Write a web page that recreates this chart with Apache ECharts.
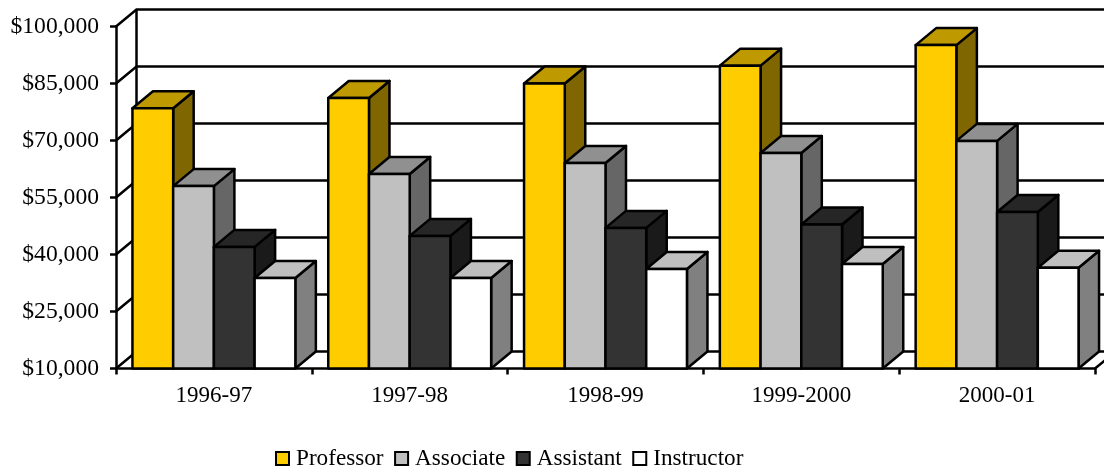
<!DOCTYPE html>
<html><head><meta charset="utf-8">
<style>html,body{margin:0;padding:0;background:#fff}#c{width:1104px;height:467px}</style>
<script src="https://cdn.jsdelivr.net/npm/echarts@6/dist/echarts.min.js"></script>
</head><body><div id="c"></div>
<script>
var categories = ['1996-97','1997-98','1998-99','1999-2000','2000-01'];
var professor = [78500,81200,85000,89700,95100];
var associate = [58000,61200,64100,66700,69900];
var assistant = [42000,44900,47000,47900,51200];
var instructor = [33800,33800,36200,37500,36500];
var yTicks = [10000,25000,40000,55000,70000,85000,100000];

var DX = 20.5, DY = 17, BAR = 0.208, FONT = 'Liberation Serif, "Times New Roman", serif', FS = 23, FSY = 23.6, LW = 2.5;
var chart = echarts.init(document.getElementById('c'), null, {renderer:'canvas'});
var line = {stroke:'#000', lineWidth:LW, fill:null};

function barSeries(name, values, idx, front, top, side){
  return {
    name:name, type:'custom', z:5, clip:false,
    itemStyle:{color:front, borderColor:'#000', borderWidth:2.5},
    encode:{x:0,y:1},
    data: values.map(function(v,i){return [i,v];}),
    renderItem:function(params, api){
      var c = api.coord([api.value(0), api.value(1)]);
      var b = api.coord([api.value(0), 10000]);
      var band = api.size([1,0])[0];
      var w = band*BAR;
      var x0 = c[0] - 2*w + idx*w, x1 = x0 + w, yT = c[1], yB = b[1];
      var st = function(f){return {fill:f, stroke:'#000', lineWidth:LW, lineJoin:'round'};};
      return {type:'group', children:[
        {type:'polygon', shape:{points:[[x1,yT],[x1+DX,yT-DY],[x1+DX,yB-DY],[x1,yB]]}, style:st(side)},
        {type:'polygon', shape:{points:[[x0,yT],[x0+DX,yT-DY],[x1+DX,yT-DY],[x1,yT]]}, style:st(top)},
        {type:'rect', shape:{x:x0,y:yT,width:w,height:yB-yT}, style:st(front)}
      ]};
    }
  };
}

var wall = {
  name:'wall', type:'custom', z:1, clip:false, silent:true,
  encode:{x:0,y:1},
  data: yTicks.map(function(t){return [0,t];}),
  renderItem:function(params, api){
    var cs = params.coordSys;
    var y = api.coord([0, api.value(1)])[1];
    var L = cs.x, R = cs.x + cs.width;
    var kids = [{type:'polyline', shape:{points:[[L,y],[L+DX,y-DY],[R+DX,y-DY]]}, style:line}];
    if (api.value(1) === yTicks[0]) {
      var topY = api.coord([0, yTicks[yTicks.length-1]])[1];
      kids.push({type:'line', shape:{x1:L+DX,y1:y-DY,x2:L+DX,y2:topY-DY}, style:line});
      kids.push({type:'line', shape:{x1:R,y1:y,x2:R+DX,y2:y-DY}, style:line});
    }
    return {type:'group', children:kids};
  }
};

chart.setOption({
  animation:false,
  backgroundColor:'#fff',
  grid:{left:116, right:9, top:26.5, bottom:98.5},
  legend:{
    data:['Professor','Associate','Assistant','Instructor'],
    left:275, top:447, padding:0, icon:'rect', itemWidth:13, itemHeight:13, itemGap:10.5,
    textStyle:{fontFamily:FONT, fontSize:23.2, color:'#000', padding:[0,0,0,2]}
  },
  xAxis:{
    type:'category', data:categories, boundaryGap:true,
    axisLine:{lineStyle:{color:'#000',width:LW}},
    axisTick:{show:true, length:6, alignWithLabel:false, lineStyle:{color:'#000',width:LW}},
    axisLabel:{fontFamily:FONT, fontSize:FS, color:'#000', margin:16}
  },
  yAxis:{
    type:'value', min:10000, max:100000, interval:15000,
    splitLine:{show:false},
    axisLine:{show:true, lineStyle:{color:'#000',width:LW}},
    axisTick:{show:true, length:6, lineStyle:{color:'#000',width:LW}},
    axisLabel:{fontFamily:FONT, fontSize:FSY, color:'#000', margin:17, padding:[5,0,0,0],
      formatter:function(v){return '$'+String(v).replace(/\B(?=(\d{3})+$)/g,',');}}
  },
  series:[
    wall,
    barSeries('Professor', professor, 0, '#FFCC00', '#BF9900', '#806600'),
    barSeries('Associate', associate, 1, '#C0C0C0', '#909090', '#666666'),
    barSeries('Assistant', assistant, 2, '#333333', '#262626', '#1A1A1A'),
    barSeries('Instructor', instructor, 3, '#FFFFFF', '#BFBFBF', '#808080')
  ]
});
</script></body></html>
